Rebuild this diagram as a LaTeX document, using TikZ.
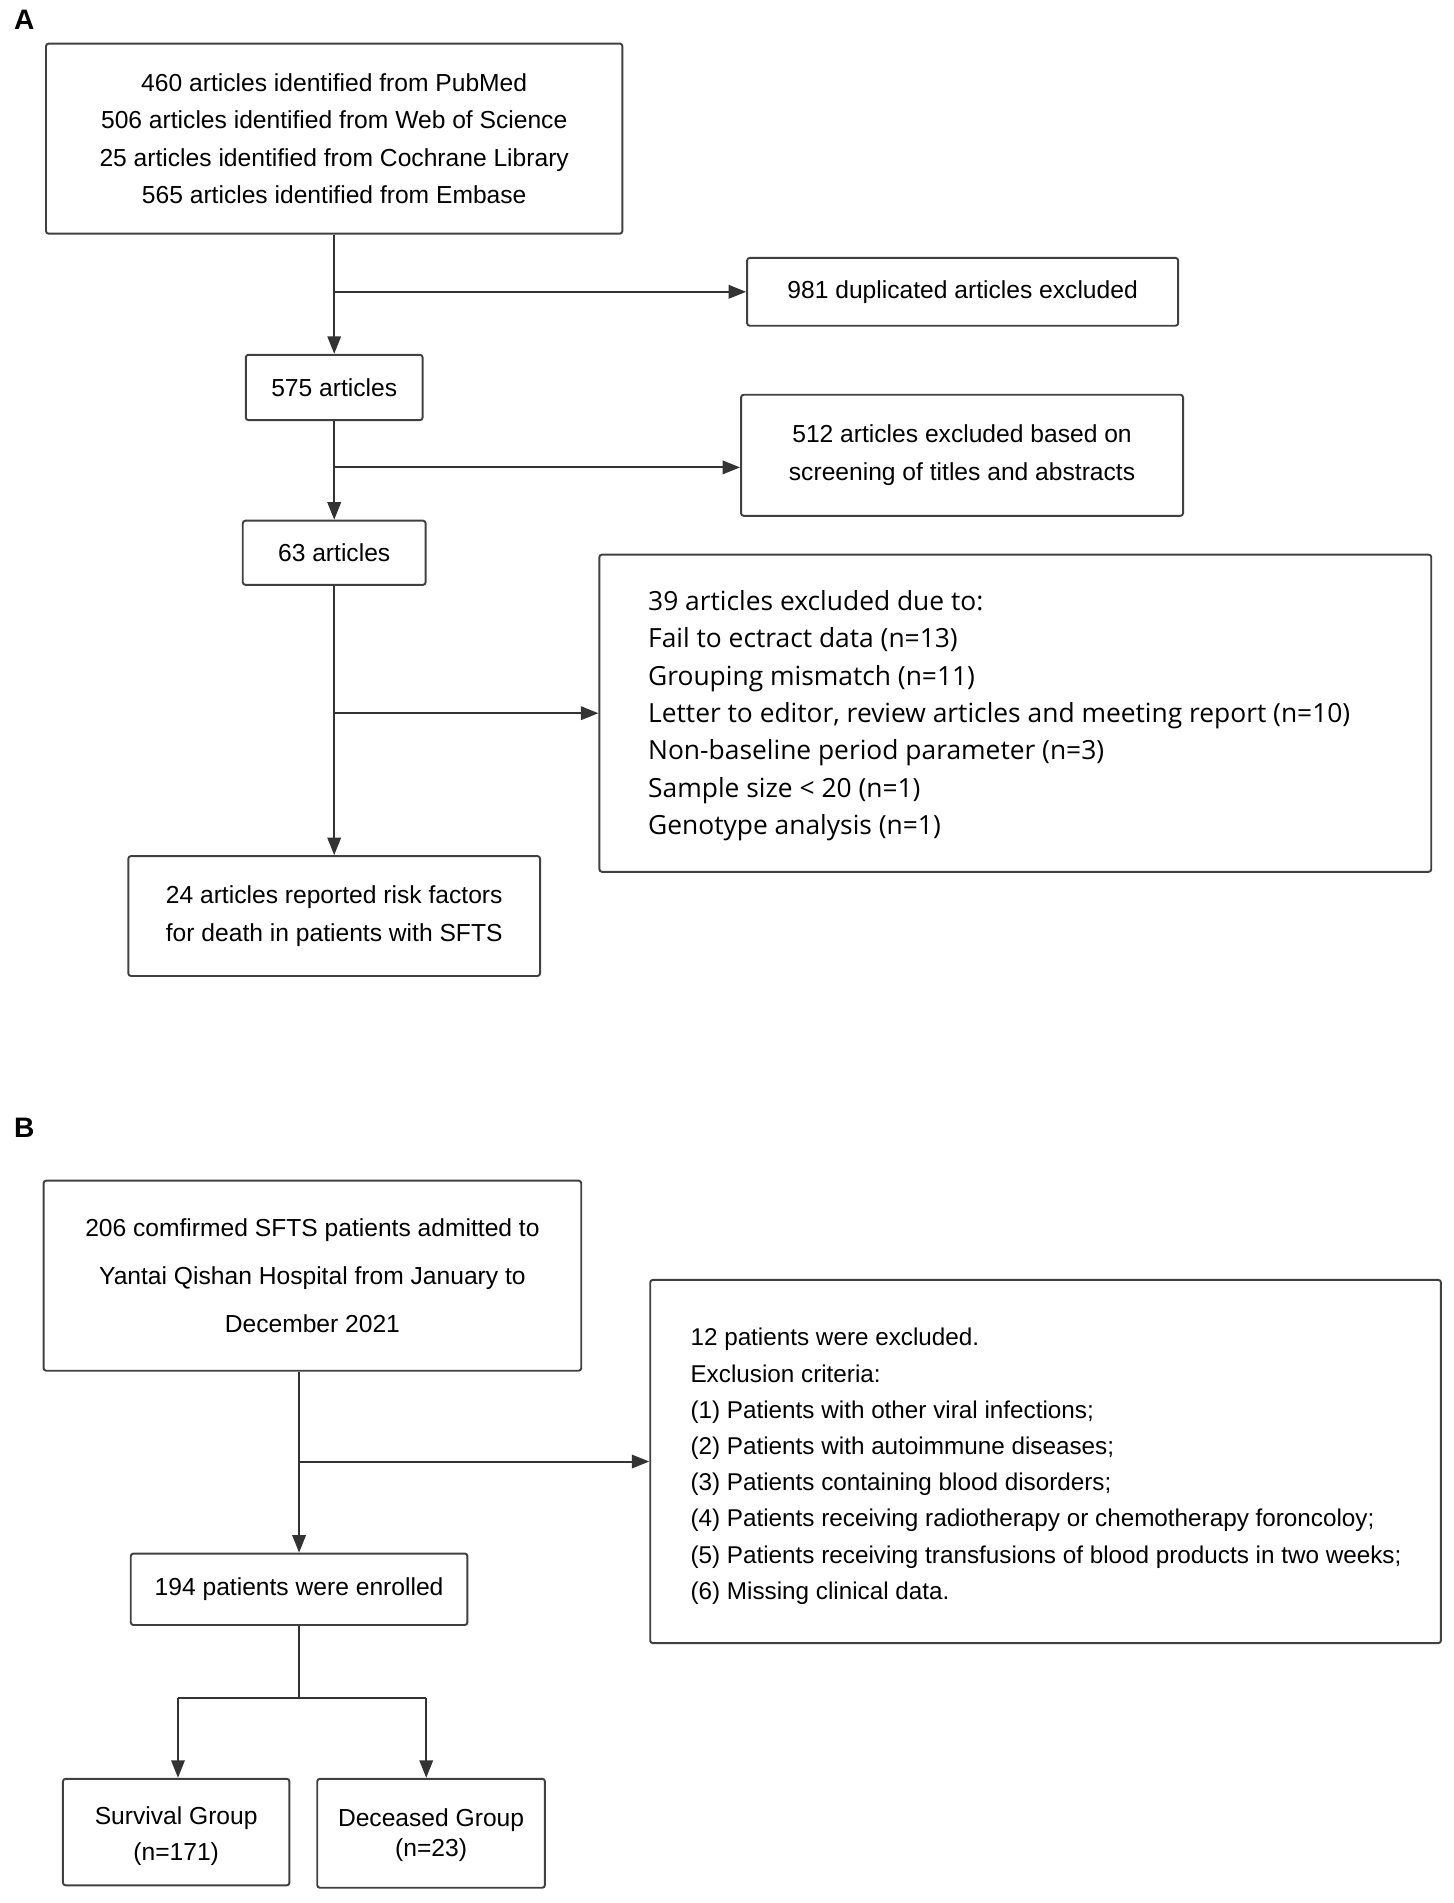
\documentclass[tikz,border=0pt]{standalone}
\usepackage{fontspec}
\setmainfont{Liberation Sans}
\newfontfamily\notefont{Open Sans}
\usetikzlibrary{arrows.meta, positioning}
\definecolor{linegray}{HTML}{333333}
\definecolor{boxgray}{HTML}{404040}
\newcommand{\pxu}{0.0242cm}

\begin{document}
\begin{tikzpicture}[
    x=0.0242cm, y=-0.0242cm,
    box/.style={rectangle, rounded corners=1.5pt, draw=boxgray, line width=1.1pt, inner sep=0pt, align=center, font=\fontsize{14}{21.3}\selectfont},
    notes/.style={inner sep=0pt, align=left, anchor=west},
    arrow/.style={-{Triangle[length=3.5mm, width=2.7mm]}, line width=1.1pt, draw=linegray},
    line/.style={line width=1.1pt, draw=linegray},
    panel/.style={font=\fontsize{16}{16}\selectfont\bfseries, inner sep=0pt}
]
\useasboundingbox (0,0) rectangle (1200,1571.6);

% Panel A
\node[panel] (pa) at (20,16) {A};

\node[box, minimum width=476*\pxu, minimum height=157*\pxu] (search) at (276,114.5)
    {460 articles identified from PubMed\\506 articles identified from Web of Science\\25 articles identified from Cochrane Library\\565 articles identified from Embase};
\node[box, minimum width=356*\pxu, minimum height=56*\pxu] (dup) at (795,241) {981 duplicated articles excluded};
\node[box, minimum width=146*\pxu, minimum height=54*\pxu] (a575) at (276,320) {575 articles};
\node[box, minimum width=365*\pxu, minimum height=100*\pxu] (screen) at (794.5,376) {512 articles excluded based on\\screening of titles and abstracts};
\node[box, minimum width=151*\pxu, minimum height=53*\pxu] (a63) at (276,456.5) {63 articles};
\node[box, minimum width=687*\pxu, minimum height=262*\pxu] (excl) at (838.5,589) {};
\node[notes, font=\notefont\fontsize{15}{21.3}\selectfont] (excltxt) at (535,591)
    {39 articles excluded due to:\\Fail to ectract data (n=13)\\Grouping mismatch (n=11)\\Letter to editor, review articles and meeting report (n=10)\\Non-baseline period parameter (n=3)\\Sample size < 20 (n=1)\\Genotype analysis (n=1)};
\node[box, minimum width=340*\pxu, minimum height=99*\pxu] (final) at (276,756.5) {24 articles reported risk factors\\for death in patients with SFTS};

\coordinate (j1) at (276,241);
\coordinate (j2) at (276,386);
\coordinate (j3) at (276,589);

% Arrows A
\draw[arrow] (search) -- (a575);
\draw[arrow] (j1) -- (dup.west);
\draw[arrow] (a575) -- (a63);
\draw[arrow] (j2) -- (j2 -| screen.west);
\draw[arrow] (a63) -- (final);
\draw[arrow] (j3) -- (excl.west);

% Panel B
\node[panel] (pb) at (20,931) {B};

\node[box, minimum width=444*\pxu, minimum height=157*\pxu, font=\fontsize{14}{27.2}\selectfont] (pat) at (258,1053.5)
    {206 comfirmed SFTS patients admitted to\\Yantai Qishan Hospital from January to\\December 2021};
\node[box, minimum width=653*\pxu, minimum height=300*\pxu] (ex12) at (863.5,1207) {};
\node[notes, font=\fontsize{13.8}{20.6}\selectfont] (ex12txt) at (570,1211)
    {12 patients were excluded.\\Exclusion criteria:\\(1) Patients with other viral infections;\\(2) Patients with autoimmune diseases;\\(3) Patients containing blood disorders;\\(4) Patients receiving radiotherapy or chemotherapy foroncoloy;\\(5) Patients receiving transfusions of blood products in two weeks;\\(6) Missing clinical data.};
\node[box, minimum width=278*\pxu, minimum height=59*\pxu] (enr) at (247,1312.5) {194 patients were enrolled};
\node[box, minimum width=187*\pxu, minimum height=88*\pxu, font=\fontsize{14}{20.6}\selectfont] (surv) at (145.5,1513) {\strut Survival Group\\(n=171)};
\node[box, minimum width=188*\pxu, minimum height=90*\pxu, font=\fontsize{14}{17}\selectfont] (dec) at (356,1514) {\strut Deceased Group\\(n=23)};

\coordinate (j4) at (247,1207);
\coordinate (j5) at (247,1402);
\coordinate (sl) at (147,1402);
\coordinate (dr) at (352,1402);

% Arrows B
\draw[arrow] (pat.south -| enr.north) -- (enr.north);
\draw[arrow] (j4) -- (j4 -| ex12.west);
\draw[line] (enr.south) -- (j5);
\draw[line] (sl) -- (dr);
\draw[arrow] (sl) -- (sl |- surv.north);
\draw[arrow] (dr) -- (dr |- dec.north);

\end{tikzpicture}
\end{document}
